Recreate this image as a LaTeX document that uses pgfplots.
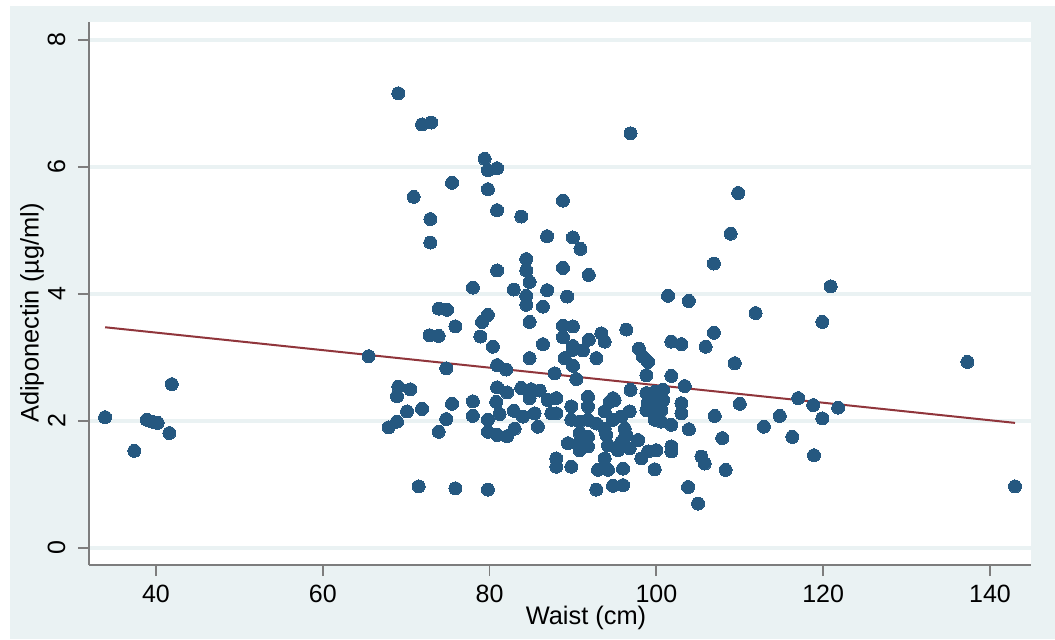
\documentclass[border=0pt]{standalone}
\usepackage{fontspec}
\setmainfont{Liberation Sans}
\usepackage{pgfplots}
\pgfplotsset{compat=1.18}
\definecolor{bgc}{RGB}{234,242,243}
\definecolor{dotc}{RGB}{37,88,128}
\definecolor{fitc}{RGB}{144,53,59}
\definecolor{axc}{RGB}{125,125,125}

\begin{document}
\begin{tikzpicture}
% page: 1055 x 639 px at 0.5pt per px
\fill[white] (0pt,0pt) rectangle (527.5pt,319.5pt);
\fill[bgc] (5pt,0pt) rectangle (527.5pt,316.5pt);
\begin{axis}[
    at={(44.5pt,37pt)}, anchor=south west,
    scale only axis, width=471pt, height=271.5pt,
    xmin=31.97, xmax=144.92, ymin=-0.268, ymax=8.283,
    axis x line*=bottom, axis y line*=left,
    axis line style={axc, line width=0.9pt},
    axis background/.style={fill=white},
    xtick={40,60,...,140}, ytick={0,2,...,8},
    tick align=outside, major tick length=5.5pt,
    tick style={axc, line width=0.9pt},
    ymajorgrids, grid style={bgc, line width=1.6pt},
    /pgf/number format/assume math mode=true,
    ticklabel style={font=\fontsize{12.5}{14}\selectfont},
    xticklabel style={yshift=-1.2pt},
    yticklabel style={rotate=90, anchor=south, yshift=2.8pt},
    xlabel={Waist (cm)}, ylabel={Adiponectin (µg/ml)},
    label style={font=\fontsize{12.7}{14}\selectfont},
    xlabel style={at={(axis description cs:0.5276,0)}, anchor=center, yshift=-26.5pt},
    ylabel style={at={(axis description cs:0,0.464)}, anchor=center, yshift=28.5pt},
]
% observations
\addplot[only marks, mark=*, mark size=3.25pt, mark options={fill=dotc, draw=dotc, line width=0pt}] coordinates {
(33.9,2.06) (37.4,1.53) (38.9,2.02) (39.5,1.99) (40.2,1.97) (41.6,1.81) (41.9,2.58)
(69.05,7.16) (71.9,6.67) (73.0,6.70) (96.9,6.53) (79.4,6.13) (79.8,5.95) (80.9,5.98)
(75.5,5.75) (70.9,5.53) (79.8,5.65) (109.8,5.59) (88.8,5.47) (80.9,5.32) (83.8,5.22)
(72.9,5.18) (72.9,4.81) (108.9,4.95) (86.9,4.91) (90.0,4.89) (90.9,4.71) (84.4,4.55)
(84.4,4.37) (80.9,4.37) (88.8,4.41) (106.9,4.48) (91.9,4.30) (84.8,4.19) (78.0,4.10)
(82.9,4.07) (86.9,4.06) (84.4,3.97) (89.3,3.96) (101.4,3.97) (103.9,3.89) (84.4,3.83)
(86.4,3.80) (73.9,3.77) (74.9,3.75) (111.9,3.70) (79.8,3.67) (79.1,3.56) (84.8,3.56)
(75.9,3.49) (72.8,3.35) (73.9,3.34) (88.8,3.50) (90.0,3.49) (78.9,3.33) (96.4,3.44)
(88.8,3.32) (91.9,3.28) (93.4,3.38) (93.8,3.25) (90.0,3.18) (101.8,3.25) (103.0,3.21)
(106.9,3.39) (80.4,3.17) (86.4,3.21) (97.9,3.14) (105.9,3.17) (65.5,3.02) (91.2,3.11)
(89.0,2.99) (90.0,3.12) (98.4,3.01) (99.0,2.93) (84.8,2.99) (92.8,2.99) (109.4,2.91)
(74.8,2.83) (80.9,2.88) (82.0,2.81) (90.0,2.87) (87.8,2.75) (90.4,2.66) (98.8,2.72)
(101.8,2.71) (96.9,2.49) (103.4,2.55)
(120.9,4.12) (119.9,3.56) (137.3,2.93) (117.0,2.36) (118.8,2.25) (121.8,2.21)
(110.0,2.27) (114.8,2.08) (119.9,2.04) (112.9,1.91) (116.3,1.75) (118.9,1.46) (143.0,0.97)
(69.05,2.54) (70.5,2.50) (68.9,2.39) (70.1,2.15) (71.9,2.19) (68.9,1.99) (67.9,1.90)
(75.5,2.27) (74.8,2.03) (73.9,1.83) (78.0,2.31) (78.0,2.08) (80.9,2.53) (82.1,2.45)
(80.8,2.30) (81.2,2.11) (79.8,2.02) (79.8,1.83) (80.9,1.78) (82.1,1.76) (82.9,2.16)
(83.0,1.88) (84.0,2.07) (83.8,2.52) (85.0,2.50) (86.0,2.48) (84.8,2.36) (85.4,2.12)
(85.8,1.91) (87.0,2.33) (87.4,2.12) (71.5,0.97) (75.9,0.94) (79.8,0.92)
(88.0,2.36) (88.0,2.12) (91.8,2.38) (89.8,2.23) (91.8,2.23) (94.4,2.30) (95.0,2.33)
(93.8,2.15) (96.8,2.15) (98.8,2.44) (99.8,2.46) (100.8,2.49) (99.0,2.30) (100.0,2.28)
(100.8,2.33) (98.8,2.17) (99.8,2.15) (100.6,2.17) (99.8,2.02) (100.6,1.99) (101.8,1.94)
(103.0,2.28) (103.0,2.12) (107.0,2.08) (103.9,1.87) (89.8,2.02) (90.8,1.99) (91.8,2.02)
(92.8,1.96) (93.8,1.88) (94.8,2.02) (95.8,2.07) (96.2,1.88) (96.4,1.78) (90.8,1.81)
(90.8,1.67) (90.8,1.54) (89.4,1.65) (91.8,1.75) (91.8,1.60) (88.0,1.41) (88.0,1.28)
(89.8,1.28) (94.2,1.62) (95.4,1.54) (95.8,1.67) (96.8,1.57) (97.8,1.70) (93.8,1.41)
(93.0,1.23) (94.2,1.23) (96.0,1.25) (98.2,1.41) (99.0,1.52) (100.0,1.54) (101.8,1.60)
(101.8,1.52) (99.8,1.24) (105.4,1.44) (105.8,1.33) (107.9,1.73) (108.3,1.23)
(92.8,0.92) (94.8,0.98) (96.0,0.99) (103.8,0.96) (105.0,0.70) (94.0,1.78) (94.8,2.36)
};
% linear fit
\addplot[fitc, line width=1pt] coordinates {(33.9,3.476) (143.0,1.97)};
\end{axis}
\end{tikzpicture}
\end{document}
